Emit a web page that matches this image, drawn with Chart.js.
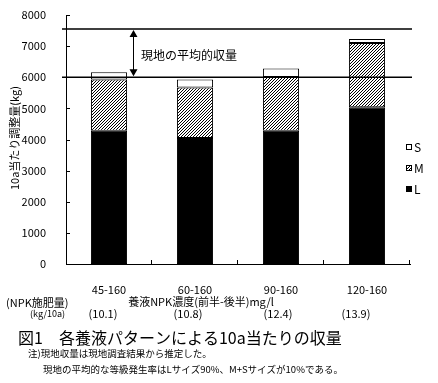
<!DOCTYPE html>
<html>
<head>
<meta charset="utf-8">
<script src="https://cdn.jsdelivr.net/npm/chart.js@4"></script>
<style>
  html, body { margin: 0; padding: 0; background: #fff; }
  #wrap { width: 438px; height: 383px; position: relative; }
</style>
</head>
<body>
<div id="wrap"><canvas id="yieldChart" width="438" height="383"></canvas></div>
<script>
// data
const categories = ['45-160', '60-160', '90-160', '120-160'];
const npkAmount = ['(10.1)', '(10.8)', '(12.4)', '(13.9)'];
const sizeL = [4280, 4050, 4280, 5040];
const sizeM = [1650, 1620, 1730, 2060];
const sizeS = [230, 260, 270, 130];
const refLines = [6000, 7550];   // 現地の平均的収量 range

const FONT = '"Noto Sans CJK JP", "DejaVu Sans", sans-serif';

// diagonal hatch for M, one-pixel "/" lines every 3px
function makeHatch() {
    const c = document.createElement('canvas');
    c.width = 3; c.height = 3;
    const g = c.getContext('2d');
    g.fillStyle = '#fff';
    g.fillRect(0, 0, 3, 3);
    g.fillStyle = '#000';
    g.fillRect(0, 2, 1, 1);
    g.fillRect(1, 1, 1, 1);
    g.fillRect(2, 0, 1, 1);
    return g.createPattern(c, 'repeat');
}
const hatch = makeHatch();

const decorations = {
    id: 'decorations',
    afterDraw(chart) {
        const ctx = chart.ctx;
        const area = chart.chartArea;
        const y = chart.scales.y;
        ctx.save();
        ctx.strokeStyle = '#000';
        ctx.fillStyle = '#000';

        // inside ticks on y
        ctx.lineWidth = 1;
        ctx.beginPath();
        y.ticks.forEach(t => {
            const py = Math.round(y.getPixelForValue(t.value)) + 0.5;
            ctx.moveTo(area.left, py);
            ctx.lineTo(area.left + 4, py);
        });
        // inside ticks on x, between categories
        for (let i = 1; i <= categories.length; i++) {
            const px = Math.round(area.left + (area.right - area.left) * i / categories.length) - 0.5;
            ctx.moveTo(px, area.bottom);
            ctx.lineTo(px, area.bottom - 4);
        }
        ctx.stroke();

        // reference lines
        ctx.lineWidth = 1.5;
        ctx.beginPath();
        refLines.forEach(v => {
            const py = y.getPixelForValue(v);
            ctx.moveTo(area.left - 4, py);
            ctx.lineTo(area.right + 2, py);
        });
        ctx.stroke();

        // double arrow
        const ax = 133.5;
        const yTop = y.getPixelForValue(refLines[1]);
        const yBot = y.getPixelForValue(refLines[0]);
        ctx.lineWidth = 1;
        ctx.beginPath();
        ctx.moveTo(ax, yTop + 4);
        ctx.lineTo(ax, yBot - 4);
        ctx.stroke();
        ctx.beginPath();
        ctx.moveTo(ax, yTop + 1);
        ctx.lineTo(ax - 4, yTop + 8);
        ctx.lineTo(ax + 4, yTop + 8);
        ctx.closePath();
        ctx.moveTo(ax, yBot - 1);
        ctx.lineTo(ax - 4, yBot - 8);
        ctx.lineTo(ax + 4, yBot - 8);
        ctx.closePath();
        ctx.fill();

        ctx.font = '12px ' + FONT;
        ctx.textBaseline = 'middle';
        ctx.textAlign = 'left';
        ctx.fillText('現地の平均的収量', 141, 55);

        // legend (top to bottom: S, M, L)
        const ds = chart.data.datasets.slice().reverse();
        ds.forEach((d, i) => {
            const ly = 147 + i * 21;
            ctx.fillStyle = d.backgroundColor;
            ctx.fillRect(406.5, ly - 2.5, 5, 5);
            ctx.strokeStyle = '#000';
            ctx.lineWidth = 1;
            ctx.strokeRect(406.5, ly - 2.5, 5, 5);
            ctx.fillStyle = '#000';
            ctx.font = '12px ' + FONT;
            ctx.fillText(d.label, 414, ly);
        });

        // y title
        ctx.save();
        ctx.translate(15, 138);
        ctx.rotate(-Math.PI / 2);
        ctx.textAlign = 'center';
        ctx.font = '11px ' + FONT;
        ctx.fillText('10a当たり調整量(kg)', 0, 0);
        ctx.restore();

        // x title and NPK amounts
        ctx.font = '11px ' + FONT;
        ctx.textAlign = 'center';
        ctx.fillText('養液NPK濃度(前半-後半)mg/l', 201, 302);
        ctx.textAlign = 'left';
        ctx.fillText('(NPK施肥量)', 6, 303);
        ctx.font = '9px ' + FONT;
        ctx.fillText('(kg/10a)', 30, 314);
        ctx.font = '11px ' + FONT;
        ctx.textAlign = 'center';
        const npkX = [103, 188, 278, 356];
        npkAmount.forEach((s, i) => ctx.fillText(s, npkX[i], 314));

        // figure caption
        ctx.textAlign = 'left';
        ctx.font = '16px ' + FONT;
        ctx.fillText('図1　各養液パターンによる10a当たりの収量', 18, 338);
        ctx.font = '9.5px ' + FONT;
        ctx.fillText('注)現地収量は現地調査結果から推定した。', 28, 353);
        ctx.fillText('現地の平均的な等級発生率はLサイズ90%、M+Sサイズが10%である。', 43, 369);

        ctx.restore();
    }
};

new Chart(document.getElementById('yieldChart'), {
    type: 'bar',
    data: {
        labels: categories,
        datasets: [
            { label: 'L', data: sizeL, backgroundColor: '#000000' },
            { label: 'M', data: sizeM, backgroundColor: hatch },
            { label: 'S', data: sizeS, backgroundColor: '#ffffff' }
        ].map(d => Object.assign(d, {
            borderColor: '#000',
            borderWidth: 1,
            borderSkipped: false,
            barPercentage: 0.42,
            categoryPercentage: 1
        }))
    },
    options: {
        responsive: false,
        animation: false,
        devicePixelRatio: 1,
        layout: { padding: { top: 15, right: 28, left: 0, bottom: 0 } },
        plugins: { legend: { display: false }, tooltip: { enabled: false } },
        scales: {
            x: {
                stacked: true,
                grid: { display: false },
                border: { display: true, color: '#000', width: 1 },
                ticks: { color: '#000', padding: 11, font: { family: FONT, size: 11 } },
                afterFit(scale) { scale.height = 119; }
            },
            y: {
                stacked: true,
                min: 0,
                max: 8000,
                grid: { display: false },
                border: { display: true, color: '#000', width: 1 },
                ticks: {
                    stepSize: 1000, color: '#000', padding: 12,
                    font: { family: FONT, size: 11 },
                    callback: v => String(v)
                },
                afterFit(scale) { scale.width = 66; scale.paddingTop = 0; scale.paddingBottom = 0; }
            }
        }
    },
    plugins: [decorations]
});
</script>
</body>
</html>
